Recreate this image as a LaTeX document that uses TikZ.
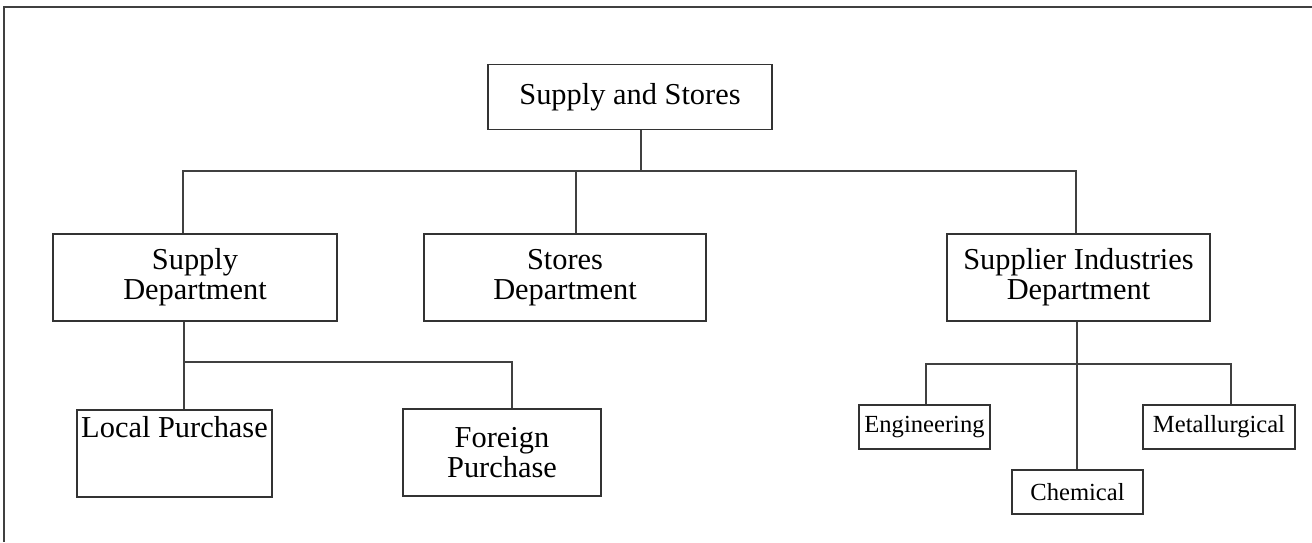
\documentclass[tikz,border=0pt]{standalone}
\usepackage{fontspec}
\setmainfont{Liberation Serif}
\usepackage{tikz}

\begin{document}
\begin{tikzpicture}[x=0.02cm,y=-0.02cm,
        box/.style={draw=black!80,line width=0.9pt,inner sep=0pt,align=center,
                    font=\fontsize{17.3}{17}\selectfont},
        small/.style={box,font=\fontsize{14}{15}\selectfont,
                      minimum height=0.88cm},
        link/.style={draw=black!75,line width=0.9pt}]

\useasboundingbox (0,0) rectangle (1312,542);
\draw[black!75,line width=1.3pt] (1312,7) -- (4,7) -- (4,542);

 \node[box] (stores0) [minimum width=5.68cm,minimum height=1.3cm] at (630,97) {Supply and Stores};
 \node[box] (supply) [minimum width=5.68cm,minimum height=1.74cm] at (195,277.5) {Supply\\Department};
 \node[box] (stores) [minimum width=5.64cm,minimum height=1.74cm] at (565,277.5) {Stores\\Department};
 \node[box] (industries) [minimum width=5.26cm,minimum height=1.74cm] at (1078.5,277.5) {Supplier Industries\\Department};
 \node[box] (local) [minimum width=3.9cm,text height=0.56cm,text depth=1.18cm,anchor=north] at (174.5,409) {Local Purchase};
 \node[box] (foreign) [minimum width=3.96cm,minimum height=1.74cm] at (502,452.5) {Foreign\\Purchase};
 \node[small] (eng) [minimum width=2.62cm] at (924.5,427) {Engineering};
 \node[small] (metal) [minimum width=3.04cm] at (1219,427) {Metallurgical};
 \node[small] (chem) [minimum width=2.62cm] at (1077.5,492) {Chemical};

 % junction points
 \coordinate (j0) at (641,171);
 \coordinate (j1) at (184,362);
 \coordinate (j2) at (1077,364);

 \path[link] (stores0.south -| j0) -- (j0)
       (j0) -| (183,171) -- (supply.north -| 183,0)
       (j0) -| (1076,171) -- (industries.north -| 1076,0)
       (576,171) -- (stores.north -| 576,0);

 \path[link] (supply.south -| j1) -- (j1)
       (j1) -| (local.north -| j1)
       (j1) -| (512,362) -- (foreign.north -| 512,0);

 \path[link] (industries.south -| j2) -- (chem.north -| j2)
       (j2) -| (926,364) -- (eng.north -| 926,0)
       (j2) -| (1231,364) -- (metal.north -| 1231,0);

\end{tikzpicture}
\end{document}
